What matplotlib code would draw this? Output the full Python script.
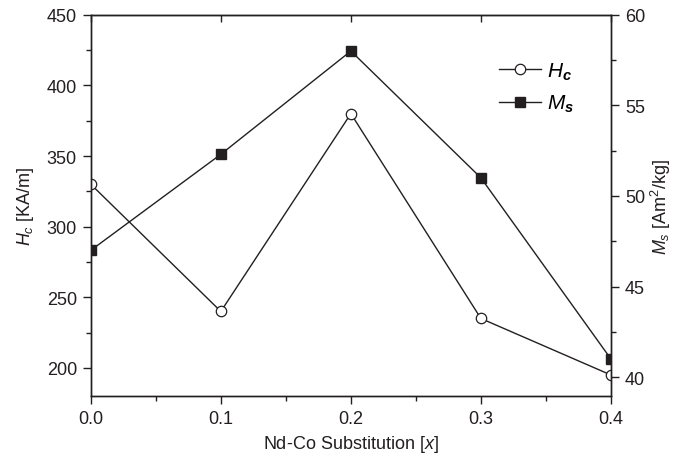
import numpy as np
import matplotlib.pyplot as plt
from matplotlib.ticker import MultipleLocator

plt.rcParams['font.family'] = ['Liberation Sans', 'DejaVu Sans']
plt.rcParams['mathtext.fontset'] = 'custom'
plt.rcParams['mathtext.rm'] = 'Liberation Sans'
plt.rcParams['mathtext.it'] = 'Liberation Sans:italic'
plt.rcParams['mathtext.bf'] = 'Liberation Sans:bold'
plt.rcParams['mathtext.bfit'] = 'Liberation Sans:bold:italic'

x = [0.0, 0.1, 0.2, 0.3, 0.4]
hc = [330, 240, 380, 235, 195]
ms = [47.0, 52.3, 58.0, 51.0, 41.0]

col = '#231f20'
fs = 13

fig = plt.figure(figsize=(6.88, 4.64), dpi=100)
ax = fig.add_axes([0.132, 0.144, 0.756, 0.822])
ax2 = ax.twinx()

l1, = ax.plot(x, hc, '-o', color=col, lw=1, mfc='white', mec=col, ms=7.5, mew=0.9)
l2, = ax2.plot(x, ms, '-s', color=col, lw=1, mfc=col, mec=col, ms=6.5)

ax.set_xlim(0, 0.4)
ax.set_ylim(180, 450)
ax2.set_ylim(38.95, 60)

ax.xaxis.set_major_locator(MultipleLocator(0.1))
ax.xaxis.set_minor_locator(MultipleLocator(0.05))
ax.yaxis.set_major_locator(MultipleLocator(50))
ax.yaxis.set_minor_locator(MultipleLocator(25))
ax2.yaxis.set_major_locator(MultipleLocator(5))
ax2.yaxis.set_minor_locator(MultipleLocator(2.5))
ax.xaxis.set_major_formatter(lambda v, p: f'{v:.1f}')

for a in (ax, ax2):
    a.tick_params(which='major', direction='out', length=6, width=1, labelsize=fs,
                  colors=col, pad=4)
    a.tick_params(which='minor', direction='out', length=3.5, width=1, colors=col)
    for s in a.spines.values():
        s.set_color(col)
        s.set_linewidth(1)

top = ax.secondary_xaxis('top')
top.xaxis.set_major_locator(MultipleLocator(0.1))
top.tick_params(direction='in', length=5, width=1, labeltop=False, colors=col)

ax.set_xlabel('Nd-Co Substitution [$x$]', fontsize=fs, color=col, labelpad=4)
ax.set_ylabel('$H_c$ [KA/m]', fontsize=fs, color=col, labelpad=8)
ax2.set_ylabel('$M_s$ [Am$^2$/kg]', fontsize=fs, color=col, labelpad=3)

ax.legend([l1, l2], ['$H_\\mathbfit{c}$', '$M_\\mathbfit{s}$'], loc='upper right',
          bbox_to_anchor=(0.965, 0.93), frameon=False, fontsize=15,
          handlelength=2.0, handletextpad=0.3, labelspacing=0.55)

fig.savefig('out.png', dpi=100)
